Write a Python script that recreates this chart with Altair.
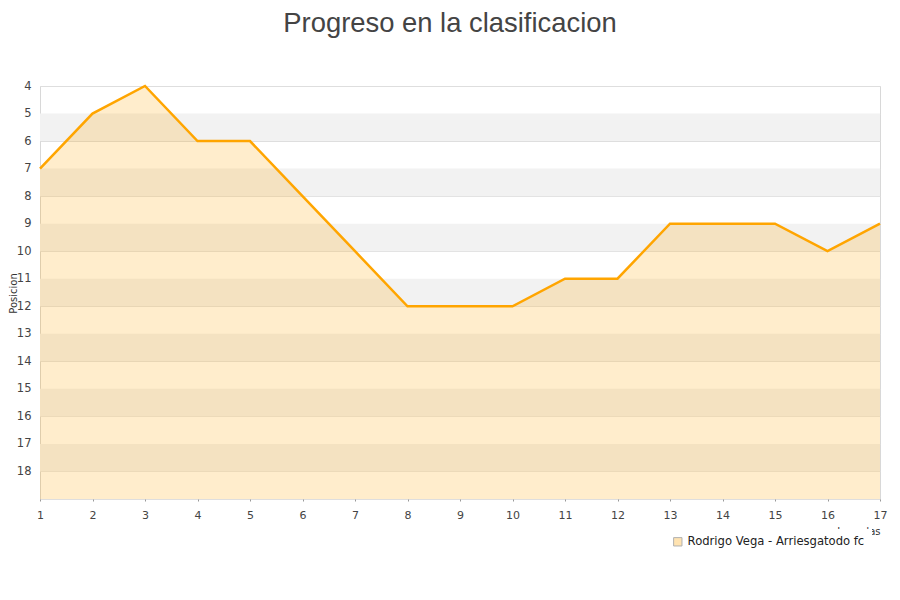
import altair as alt
import pandas as pd

jornadas = list(range(1, 18))
posiciones = [7, 5, 4, 6, 6, 8, 10, 12, 12, 12, 11, 11, 9, 9, 9, 10, 9]
serie = "Rodrigo Vega - Arriesgatodo fc"
y_ticks = list(range(4, 19))
band_starts = [5, 7, 9, 11, 13, 15, 17]

df = pd.DataFrame({"Jornada": jornadas, "Posicion": posiciones, "serie": [serie] * len(jornadas)})
bands = pd.DataFrame({"y0": band_starts, "y1": [b + 1 for b in band_starts]})

xscale = alt.Scale(domain=[1, 17], nice=False, zero=False)
yscale = alt.Scale(domain=[4, 19], reverse=True, nice=False, zero=False)

yaxis = alt.Axis(values=y_ticks + [19], title="Posicion", labelExpr="datum.value == 19 ? '' : datum.label",
                 grid=True, gridColor="#dedede", domain=False, ticks=False, labelOverlap=False,
                 labelFlush=False, labelBound=False,
                 labelFontSize=11.5, labelColor="#444", labelFont="DejaVu Sans", labelPadding=9,
                 titleFontSize=10, titleFont="DejaVu Sans", titleFontWeight="normal", titleColor="#333",
                 titleX=-22, titleY=207, titleAngle=270, titleBaseline="bottom", titleAlign="center")
xaxis = alt.Axis(values=jornadas, title="Jornadas", titleAnchor="end", titleFontSize=10,
                 titleFont="DejaVu Sans", titleFontWeight="normal", titleColor="#333",
                 grid=False, domain=False, tickSize=2, tickColor="#999", labelFlush=False,
                 labelOverlap=False, labelBound=False,
                 labelFontSize=11, labelColor="#444", labelFont="DejaVu Sans", labelPadding=8,
                 titlePadding=6)

band_layer = alt.Chart(bands).mark_rect(color="#f2f2f2").encode(
    x=alt.value(0), x2=alt.value(840),
    y=alt.Y("y0:Q", scale=yscale, axis=yaxis),
    y2="y1:Q",
)

area = alt.Chart(df).mark_area(fillOpacity=0.2).encode(
    x=alt.X("Jornada:Q", scale=xscale, axis=xaxis),
    y=alt.Y("Posicion:Q", scale=yscale, axis=yaxis),
    y2=alt.datum(19),
    fill=alt.Fill("serie:N", scale=alt.Scale(range=["#ffa500"]),
                  legend=alt.Legend(title=None, orient="none", legendX=625, legendY=443,
                                    symbolType="square", symbolSize=70, symbolStrokeColor="#000000",
                                    symbolStrokeWidth=1, symbolOpacity=0.3, labelFontSize=11.6,
                                    labelFont="DejaVu Sans", labelColor="#222", fillColor="white",
                                    labelLimit=400, padding=7)),
)

line = alt.Chart(df).mark_line(color="#ffa500", strokeWidth=2.5).encode(
    x=alt.X("Jornada:Q", scale=xscale, axis=xaxis),
    y=alt.Y("Posicion:Q", scale=yscale, axis=yaxis),
)

chart = alt.layer(band_layer, area, line).properties(
    width=840, height=413,
    title=alt.TitleParams("Progreso en la clasificacion", fontSize=27.4, font="Liberation Sans",
                          fontWeight="normal", color="#444", anchor="middle", dx=-10, offset=43),
    padding={"left": 32, "top": 78, "right": 12, "bottom": 70},
    autosize=alt.AutoSizeParams(type="none"),
).configure_view(stroke="#d8d8d8").configure_axis(domain=False)

chart.save("out.html", embed_options={"renderer": "svg", "actions": False})
